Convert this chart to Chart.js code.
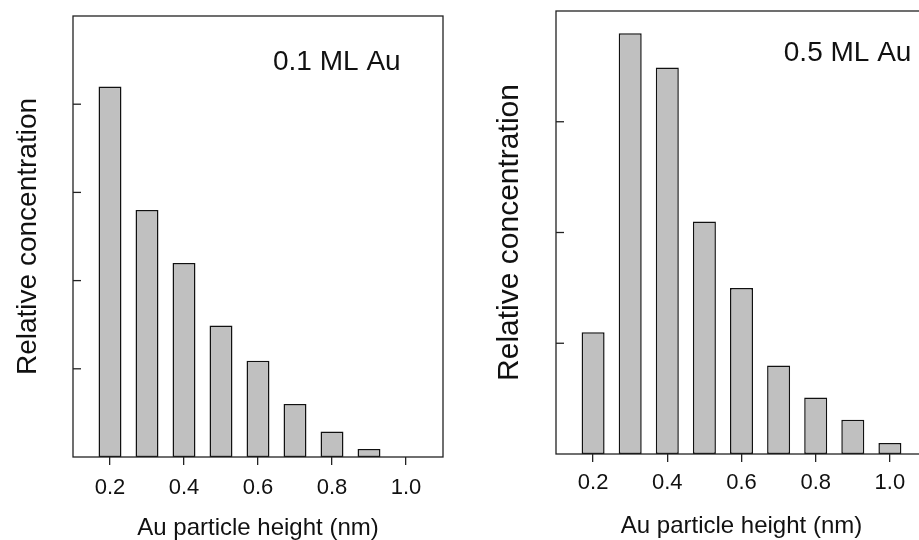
<!DOCTYPE html>
<html>
<head>
<meta charset="utf-8">
<script src="https://cdn.jsdelivr.net/npm/chart.js@4.4.1/dist/chart.umd.min.js"></script>
<style>
  html, body { margin: 0; padding: 0; background: #fff; overflow: hidden; width: 919px; height: 540px; }
  .panel { position: absolute; top: 0; height: 540px; }
  #left { left: 0; width: 460px; }
  #right { left: 460px; width: 500px; }
</style>
</head>
<body>
<div class="panel" id="left"><canvas id="chartLeft"></canvas></div>
<div class="panel" id="right"><canvas id="chartRight"></canvas></div>
<script>
// particle heights (nm) - one bar each
const heights = [0.2, 0.3, 0.4, 0.5, 0.6, 0.7, 0.8, 0.9, 1.0];

// relative concentration
const conc01 = [4.20, 2.80, 2.20, 1.49, 1.09, 0.60, 0.29, 0.09, 0];
const conc05 = [1.10, 3.80, 3.49, 2.10, 1.50, 0.80, 0.51, 0.31, 0.10];

const xTickValues = [0.2, 0.4, 0.6, 0.8, 1.0];
const xTickLabels = ["0.2", "0.4", "0.6", "0.8", "1.0"];
const yTicks01 = [1, 2, 3, 4];
const yTicks05 = [1, 2, 3];

const FONT = '"Liberation Sans", Arial, Helvetica, sans-serif';
const INK = "#111";

// box around the plot, inward y ticks and the coverage label
const framePlugin = {
  id: "frame",
  afterDatasetsDraw(chart, args, opts) {
    const { ctx, chartArea: a, scales } = chart;
    ctx.save();
    ctx.strokeStyle = "#222";
    ctx.lineWidth = 1.3;
    ctx.strokeRect(a.left, a.top, a.right - a.left, a.bottom - a.top);
    opts.yTicks.forEach((v) => {
      const y = scales.y.getPixelForValue(v);
      ctx.beginPath();
      ctx.moveTo(a.left, y);
      ctx.lineTo(a.left + 8, y);
      ctx.stroke();
    });
    ctx.fillStyle = INK;
    ctx.font = "28px " + FONT;
    ctx.textAlign = "center";
    ctx.textBaseline = "middle";
    ctx.fillText(
      opts.label,
      scales.x.getPixelForValue(opts.labelAt[0]),
      scales.y.getPixelForValue(opts.labelAt[1])
    );
    ctx.restore();
  },
};

function makeChart(id, values, cfg) {
  const ctx = document.getElementById(id).getContext("2d");
  return new Chart(ctx, {
    type: "bar",
    data: {
      datasets: [
        {
          data: heights.map((h, i) => ({ x: h, y: values[i] })),
          backgroundColor: "#c0c0c0",
          borderColor: "#111",
          borderWidth: 1.5,
          borderSkipped: false,
          categoryPercentage: 1,
          barPercentage: 0.62,
        },
      ],
    },
    options: {
      responsive: true,
      maintainAspectRatio: false,
      animation: false,
      layout: { padding: cfg.padding },
      plugins: {
        legend: { display: false },
        tooltip: { enabled: false },
        frame: { yTicks: cfg.yTicks, label: cfg.label, labelAt: cfg.labelAt },
      },
      scales: {
        x: {
          type: "linear",
          min: 0.1,
          max: 1.1,
          offset: false,
          afterBuildTicks: (scale) => {
            scale.ticks = xTickValues.map((v) => ({ value: v }));
          },
          afterFit: (scale) => {
            scale.height = cfg.xHeight;
          },
          border: { display: false },
          grid: {
            display: true,
            offset: false,
            drawOnChartArea: false,
            drawTicks: true,
            tickLength: 8,
            color: "#222",
            lineWidth: 1.3,
          },
          ticks: {
            padding: cfg.xTickPad,
            color: INK,
            font: { family: FONT, size: 22 },
            maxRotation: 0,
            callback: (v, i) => xTickLabels[i],
          },
          title: {
            display: true,
            text: "Au particle height (nm)",
            color: INK,
            font: { family: FONT, size: 24, lineHeight: 1 },
            padding: { top: 0, bottom: cfg.xTitlePad },
          },
        },
        y: {
          min: 0,
          max: cfg.yMax,
          afterFit: (scale) => {
            scale.width = cfg.yWidth;
          },
          border: { display: false },
          grid: { display: false },
          ticks: { display: false },
          title: {
            display: true,
            text: "Relative concentration",
            color: INK,
            font: { family: FONT, size: cfg.yTitleSize, lineHeight: 1 },
            padding: { top: cfg.yTitlePad, bottom: 0 },
          },
        },
      },
    },
    plugins: [framePlugin],
  });
}

makeChart("chartLeft", conc01, {
  padding: { left: 0, top: 16, right: 17, bottom: 0 },
  xHeight: 83,
  yWidth: 73,
  yMax: 5,
  yTicks: yTicks01,
  yTitleSize: 28,
  yTitlePad: 14,
  xTitlePad: 0,
  xTickPad: 10,
  label: "0.1 ML Au",
  labelAt: [0.813, 4.47],
});

makeChart("chartRight", conc05, {
  padding: { left: 0, top: 11, right: 33, bottom: 0 },
  xHeight: 86,
  yWidth: 96,
  yMax: 4,
  yTicks: yTicks05,
  yTitleSize: 30,
  yTitlePad: 35,
  xTitlePad: 2,
  xTickPad: 8,
  label: "0.5 ML Au",
  labelAt: [0.886, 3.615],
});
</script>
</body>
</html>
